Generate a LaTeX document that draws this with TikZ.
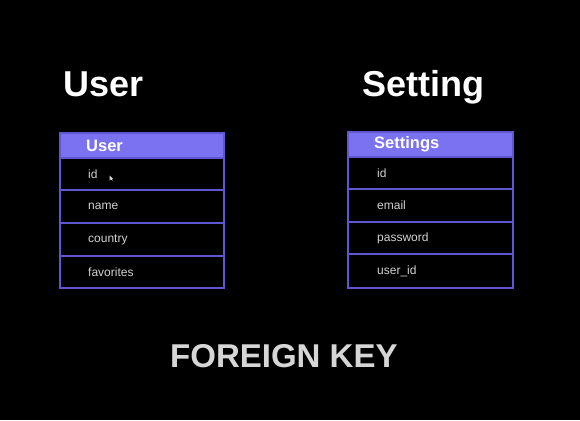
\documentclass[tikz,border=0pt]{standalone}
\usepackage{fontspec}
\setmainfont{Liberation Sans}
\definecolor{hdr}{HTML}{7A72F0}
\definecolor{brd}{HTML}{5E57D2}
\definecolor{rowtxt}{HTML}{D2D2D2}
\definecolor{bigtxt}{HTML}{D6D6D6}
\begin{document}
\begin{tikzpicture}[x=1pt,y=-1pt,
  title/.style={anchor=base west,inner sep=0pt,text=white,font=\fontsize{36}{40}\selectfont\bfseries},
  hdrbox/.style={fill=hdr,draw=brd,line width=1.2pt},
  hdrtxt/.style={anchor=west,inner sep=0pt,text=white,font=\fontsize{16.5}{18}\selectfont\bfseries},
  rowbox/.style={draw=brd,line width=1.2pt},
  rowlabel/.style={anchor=west,inner sep=0pt,text=rowtxt,font=\fontsize{12}{14}\selectfont}]
\fill[black] (0,0) rectangle (580,420);
\useasboundingbox (0,0) rectangle (580,420);
% titles
\node[title] (t1) at (63,96) {User};
\node[title] (t2) at (362,96) {Setting};
% User table
\draw[hdrbox] (60,133) rectangle (224,158);
\node[hdrtxt] (uh) at (86,145.5) {User};
\draw[rowbox] (60,158) rectangle (224,190);
\draw[rowbox] (60,190) rectangle (224,223);
\draw[rowbox] (60,223) rectangle (224,256);
\draw[rowbox] (60,256) rectangle (224,288);
\node[rowlabel] (u1) at (88,174) {id};
\node[rowlabel] (u2) at (88,206.5) {name};
\node[rowlabel] (u3) at (88,239.5) {country};
\node[rowlabel] (u4) at (88,272) {favorites};
% cursor
\fill[white!85!black] (109.5,175.5) -- (109.5,180.5) -- (110.8,179.4) -- (112.3,180.6) -- (112.8,180.1) -- (111.6,178.9) -- (113,178.6) -- cycle;
% Settings table
\draw[hdrbox] (348,132) rectangle (513,157);
\node[hdrtxt] (sh) at (374,144.5) {Settings};
\draw[rowbox] (348,157) rectangle (513,189);
\draw[rowbox] (348,189) rectangle (513,222);
\draw[rowbox] (348,222) rectangle (513,254);
\draw[rowbox] (348,254) rectangle (513,288);
\node[rowlabel] (s1) at (377,173) {id};
\node[rowlabel] (s2) at (377,205.5) {email};
\node[rowlabel] (s3) at (377,238) {password};
\node[rowlabel] (s4) at (377,271) {user\_id};
% footer
\node[anchor=base west,inner sep=0pt,text=bigtxt,font=\fontsize{33}{36}\selectfont\bfseries] (fk) at (170,367) {FOREIGN KEY};
\end{tikzpicture}
\end{document}
